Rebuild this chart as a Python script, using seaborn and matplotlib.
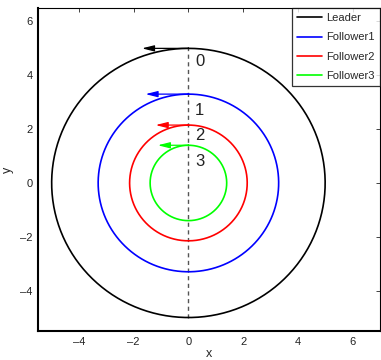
import numpy as np
import pandas as pd
import matplotlib
matplotlib.use("Agg")
import matplotlib.pyplot as plt
import seaborn as sns

names = ["Leader", "Follower1", "Follower2", "Follower3"]
radii = [5.0, 3.3, 2.15, 1.4]
arrow_tips = [-1.7, -1.57, -1.2, -1.12]
colors = ["#000000", "#0000ff", "#ff0000", "#00ff00"]
label_text = ["0", "1", "2", "3"]
label_y = [4.5, 2.7, 1.75, 0.8]
xticks = [-4, -2, 0, 2, 4, 6]
yticks = [-4, -2, 0, 2, 4, 6]

sns.set_theme(style="white")
plt.rcParams["font.family"] = ["Liberation Sans", "DejaVu Sans"]

theta = np.linspace(0, 2 * np.pi, 400)
frames = []
for n, r in zip(names, radii):
    frames.append(pd.DataFrame({"x": -r * np.sin(theta), "y": r * np.cos(theta),
                                "agent": n, "order": np.arange(len(theta))}))
df = pd.concat(frames, ignore_index=True)

fig = plt.figure(figsize=(3.81, 3.6), dpi=100)
ax = fig.add_axes([0.0997, 0.0806, 0.8973, 0.8972])

sns.lineplot(data=df, x="x", y="y", hue="agent", palette=colors, hue_order=names,
             sort=False, estimator=None, units="agent", ax=ax, linewidth=1.2)

ax.plot([0, 0], [-radii[0], radii[0]], linestyle=(0, (3, 2.5)), color="#555555", linewidth=1.0, zorder=1)

for r, tip, c in zip(radii, arrow_tips, colors):
    ax.annotate("", xy=(tip, r), xytext=(0, r),
                arrowprops=dict(arrowstyle="-|>,head_length=0.6,head_width=0.15",
                                color=c, lw=0.9, shrinkA=0, shrinkB=0))

for t, yy in zip(label_text, label_y):
    ax.text(0.25, yy, t, fontsize=12, ha="left", va="center", color="#222222")

ax.set_xlim(-5.5, 7)
ax.set_ylim(-5.5, 6.5)
ax.set_xticks(xticks)
ax.set_yticks(yticks)
ax.set_xticklabels(["\u2013" + str(abs(v)) if v < 0 else str(v) for v in xticks])
ax.set_yticklabels(["\u2013" + str(abs(v)) if v < 0 else str(v) for v in yticks])
ax.tick_params(direction="in", length=3, width=0.6, labelsize=8, colors="#222222",
               top=True, right=True, pad=4)
for s in ax.spines.values():
    s.set_color("black")
    s.set_linewidth(0.8)
ax.spines["bottom"].set_linewidth(1.5)
ax.spines["left"].set_linewidth(1.5)
ax.set_xlabel("x", fontsize=9, labelpad=1)
ax.set_ylabel("y", fontsize=9, labelpad=4)

leg = ax.legend(loc="upper right", bbox_to_anchor=(1.0, 1.0), borderaxespad=0.0,
                fontsize=8, frameon=True, fancybox=False, handlelength=2.3,
                handletextpad=0.35, labelspacing=0.85, borderpad=0.45)
leg.get_frame().set_edgecolor("black")
leg.get_frame().set_linewidth(0.9)

fig.savefig("out.png", dpi=100)
